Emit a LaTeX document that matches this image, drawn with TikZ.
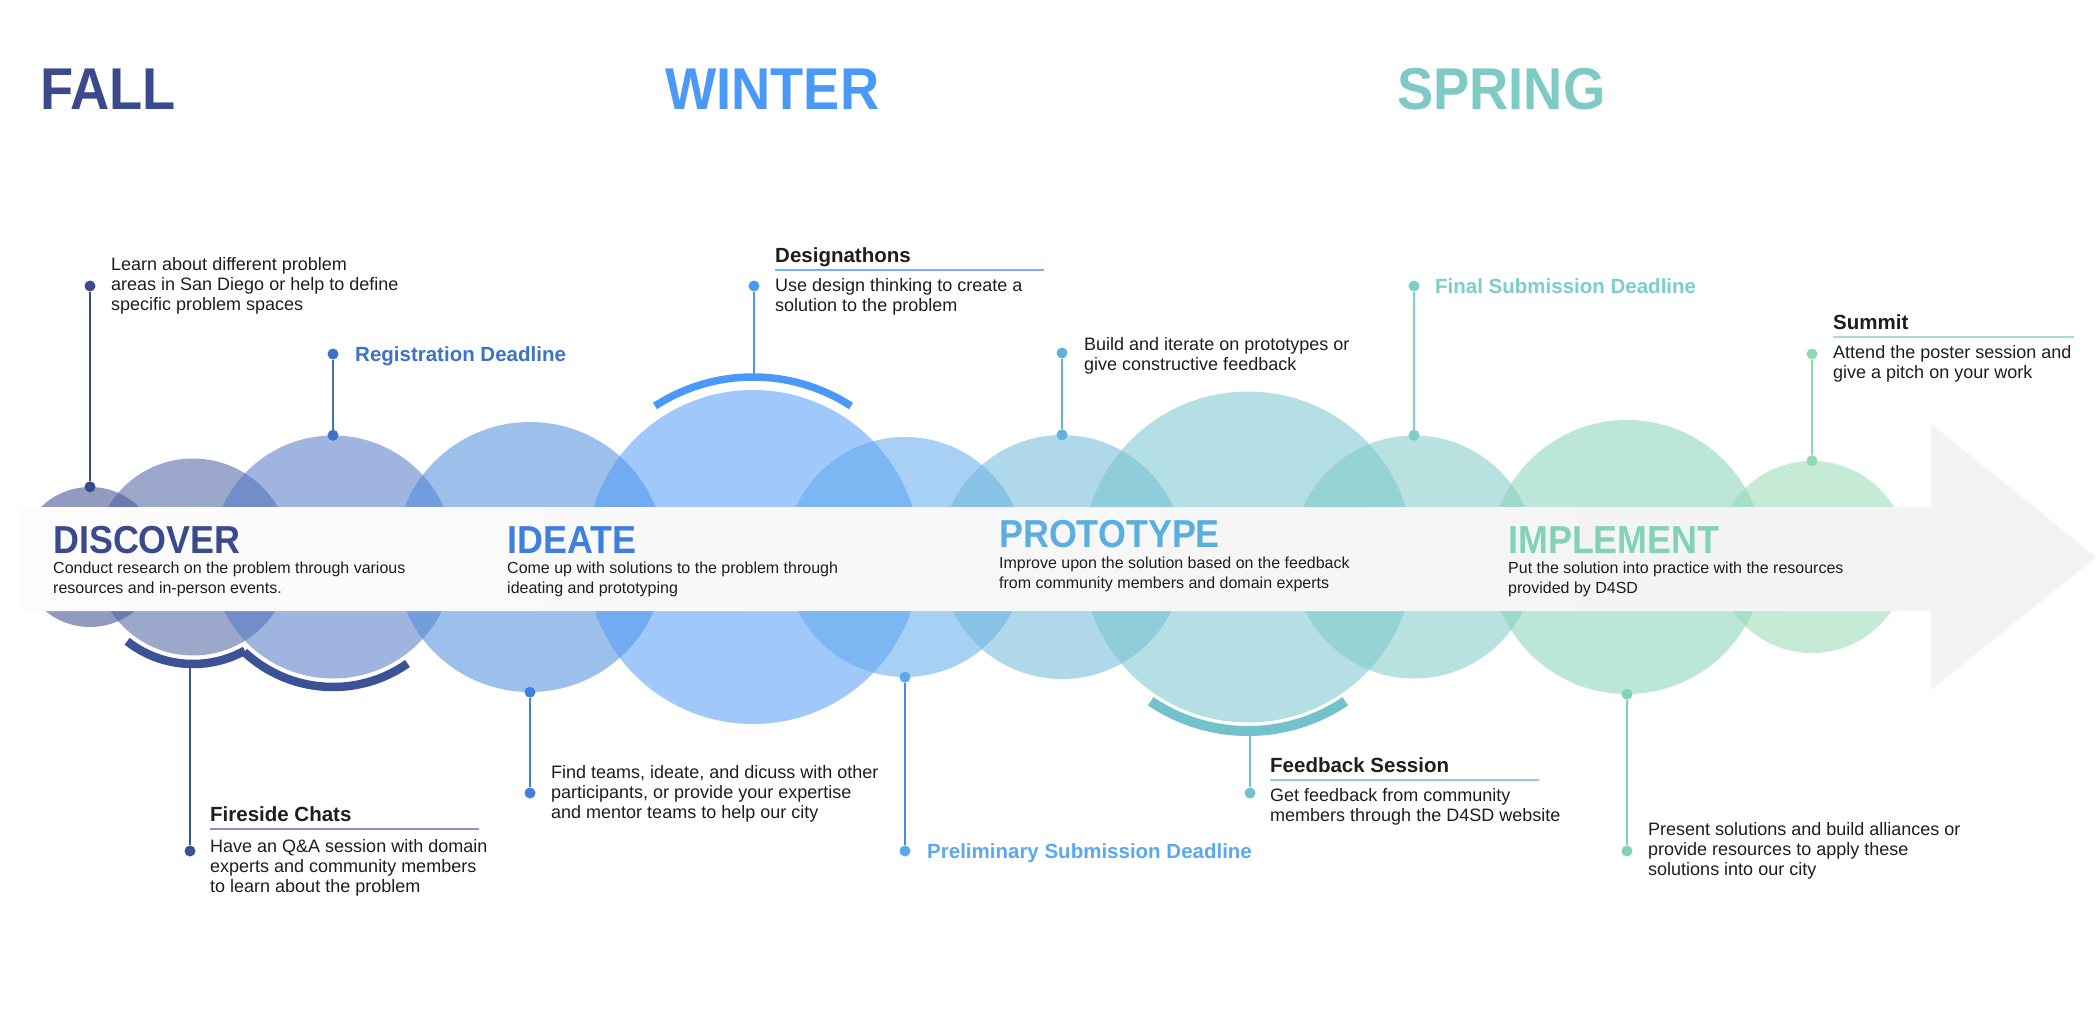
\documentclass[tikz,border=0pt]{standalone}
\usepackage{fontspec}
\setmainfont{Liberation Sans}
\newfontfamily\narrowsans{Liberation Sans}[FakeStretch=0.92]
\usepackage{xcolor}
\usepackage{tikz}

\definecolor{ink}{HTML}{1E1E1E}
\definecolor{bandl}{HTML}{FCFCFC}
\definecolor{bandr}{HTML}{F2F2F2}
\definecolor{fallc}{HTML}{3A4A8C}
\definecolor{winterc}{HTML}{4A98F8}
\definecolor{springc}{HTML}{7ECBC6}
\definecolor{regc}{HTML}{3D72C8}
\definecolor{firec}{HTML}{3B5296}
\definecolor{ideac}{HTML}{3F7FE0}
\definecolor{protoc}{HTML}{5AAEE0}
\definecolor{buildc}{HTML}{62B0DC}
\definecolor{prelimc}{HTML}{5AA8F0}
\definecolor{feedc}{HTML}{72C1CB}
\definecolor{finalc}{HTML}{7DCDC8}
\definecolor{summitc}{HTML}{8EDAB0}
\definecolor{implc}{HTML}{82D2BA}
\definecolor{b1}{HTML}{3A4A8C}
\definecolor{b2}{HTML}{4B61A2}
\definecolor{b3}{HTML}{5277C7}
\definecolor{b4}{HTML}{4D8BDC}
\definecolor{b5}{HTML}{529BF8}
\definecolor{b6}{HTML}{61AAED}
\definecolor{b7}{HTML}{6FB8DC}
\definecolor{b8}{HTML}{78C5CE}
\definecolor{b9}{HTML}{7ECAC7}
\definecolor{b10}{HTML}{87D2BC}
\definecolor{b11}{HTML}{96DBB6}

\begin{document}
\begin{tikzpicture}[
  x=1pt, y=-1pt,
  bub/.style={circle, inner sep=0pt, fill opacity=0.55},
  dot/.style={circle, inner sep=0pt, minimum size=11pt},
  pin/.style={line width=1.5pt},
  ring/.style={line width=8.5pt},
  rule/.style={line width=1.8pt},
  season/.style={anchor=base west, inner sep=0pt, font=\narrowsans\bfseries\fontsize{59}{60}\selectfont},
  phase/.style={anchor=base west, inner sep=0pt, font=\narrowsans\bfseries\fontsize{39}{40}\selectfont},
  desc/.style={anchor=base west, inner sep=0pt, align=left, text=ink, font=\fontsize{16}{20}\selectfont},
  note/.style={anchor=base west, inner sep=0pt, align=left, text=ink, font=\fontsize{18}{20}\selectfont},
  head/.style={anchor=base west, inner sep=0pt, text=ink, font=\bfseries\fontsize{20.5}{24}\selectfont},
  due/.style={anchor=base west, inner sep=0pt, font=\bfseries\fontsize{20.5}{24}\selectfont}
]
\fill[white] (0,0) rectangle (2100,1024);

\node[season, text=fallc] (fall) at (40,110) {FALL};
\node[season, text=winterc] (winter) at (665,110) {WINTER};
\node[season, text=springc] (spring) at (1397,110) {SPRING};

\node[bub, fill=b1, minimum size=140] (c1) at (90,557) {};
\node[bub, fill=b2, minimum size=197] (c2) at (193,557) {};
\node[bub, fill=b3, minimum size=243] (c3) at (333,557) {};
\node[bub, fill=b4, minimum size=270] (c4) at (530,557) {};
\node[bub, fill=b5, minimum size=334] (c5) at (753,557) {};
\node[bub, fill=b6, minimum size=240] (c6) at (905,557) {};
\node[bub, fill=b7, minimum size=244] (c7) at (1062,557) {};
\node[bub, fill=b8, minimum size=331] (c8) at (1248,557) {};
\node[bub, fill=b9, minimum size=243] (c9) at (1414,557) {};
\node[bub, fill=b10, minimum size=274] (c10) at (1627,557) {};
\node[bub, fill=b11, minimum size=192] (c11) at (1812,557) {};

\draw[ring, firec] ([shift={(128:107)}]c2.center) arc[start angle=128, end angle=61, radius=107];
\draw[ring, firec] ([shift={(133:130)}]c3.center) arc[start angle=133, end angle=55, radius=130];
\draw[ring, winterc, line width=7.5pt] ([shift={(237:180)}]c5.center) arc[start angle=237, end angle=303, radius=180];
\draw[ring, feedc, line width=10pt] ([shift={(124:174)}]c8.center) arc[start angle=124, end angle=56, radius=174];

\shade[left color=bandl, right color=bandr]
  (20,507) -- (1931,507) -- (1931,424) -- (2096,557) -- (1931,690) -- (1931,611) -- (20,611) -- cycle;

\node[phase, text=fallc] (discover) at (53,553) {DISCOVER};
\node[desc] (discovertxt) at (53,593) {Conduct research on the problem through various\\resources and in-person events.};
\node[phase, text=ideac] (ideate) at (507,553) {IDEATE};
\node[desc] (ideatetxt) at (507,593) {Come up with solutions to the problem through\\ideating and prototyping};
\node[phase, text=protoc] (prototype) at (999,547) {PROTOTYPE};
\node[desc] (prototypetxt) at (999,588) {Improve upon the solution based on the feedback\\from community members and domain experts};
\node[phase, text=implc] (implement) at (1508,553) {IMPLEMENT};
\node[desc] (implementtxt) at (1508,593) {Put the solution into practice with the resources\\provided by D4SD};

\node[dot, fill=fallc] (learn1) at (90,286) {};
\node[dot, fill=fallc] (learn2) at (c1.north) {};
\draw[pin, fallc] (learn1) -- (learn2);
\node[note] (learntxt) at (111,310) {Learn about different problem\\areas in San Diego or help to define\\specific problem spaces};

\node[dot, fill=regc] (reg1) at (333,354) {};
\node[dot, fill=regc] (reg2) at (c3.north) {};
\draw[pin, regc] (reg1) -- (reg2);
\node[due, text=regc] (regtxt) at (355,361) {Registration Deadline};

\coordinate (fire1) at (190,664);
\node[dot, fill=firec] (fire2) at (190,851) {};
\draw[pin, firec] (fire1) -- (fire2);
\node[head] (firehead) at (210,821) {Fireside Chats};
\draw[rule, fallc!60] ([yshift=-8pt]firehead.base west) -- ++(269,0);
\node[note] (firetxt) at (210,892) {Have an Q\&A session with domain\\experts and community members\\to learn about the problem};

\node[dot, fill=ideac] (team1) at (c4.south) {};
\node[dot, fill=ideac] (team2) at (530,793) {};
\draw[pin, ideac] (team1) -- (team2);
\node[note] (teamtxt) at (551,818) {Find teams, ideate, and dicuss with other\\participants, or provide your expertise\\and mentor teams to help our city};

\node[dot, fill=winterc] (design1) at (754,286) {};
\coordinate (design2) at (754,377);
\draw[pin, winterc] (design1) -- (design2);
\node[head] (designhead) at (775,262) {Designathons};
\draw[rule, winterc!75] ([yshift=-8pt]designhead.base west) -- ++(269,0);
\node[note] (designtxt) at (775,311) {Use design thinking to create a\\solution to the problem};

\node[dot, fill=buildc] (build1) at (1062,353) {};
\node[dot, fill=buildc] (build2) at (c7.north) {};
\draw[pin, buildc] (build1) -- (build2);
\node[note] (buildtxt) at (1084,370) {Build and iterate on prototypes or\\give constructive feedback};

\node[dot, fill=prelimc] (prelim1) at (c6.south) {};
\node[dot, fill=prelimc] (prelim2) at (905,851) {};
\draw[pin, prelimc!80!blue] (prelim1) -- (prelim2);
\node[due, text=prelimc] (prelimtxt) at (927,858) {Preliminary Submission Deadline};

\coordinate (feed1) at (1250,733);
\node[dot, fill=feedc] (feed2) at (1250,793) {};
\draw[pin, feedc] (feed1) -- (feed2);
\node[head] (feedhead) at (1270,772) {Feedback Session};
\draw[rule, feedc!80] ([yshift=-8pt]feedhead.base west) -- ++(269,0);
\node[note] (feedtxt) at (1270,821) {Get feedback from community\\members through the D4SD website};

\node[dot, fill=finalc] (final1) at (1414,286) {};
\node[dot, fill=finalc] (final2) at (c9.north) {};
\draw[pin, finalc] (final1) -- (final2);
\node[due, text=finalc] (finaltxt) at (1435,293) {Final Submission Deadline};

\node[dot, fill=summitc] (summit1) at (1812,354) {};
\node[dot, fill=summitc] (summit2) at (c11.north) {};
\draw[pin, summitc] (summit1) -- (summit2);
\node[head] (summithead) at (1833,329) {Summit};
\draw[rule, summitc!80] ([yshift=-8pt]summithead.base west) -- ++(241,0);
\node[note] (summittxt) at (1833,378) {Attend the poster session and\\give a pitch on your work};

\node[dot, fill=implc] (present1) at (c10.south) {};
\node[dot, fill=implc] (present2) at (1627,851) {};
\draw[pin, implc] (present1) -- (present2);
\node[note] (presenttxt) at (1648,875) {Present solutions and build alliances or\\provide resources to apply these\\solutions into our city};
\end{tikzpicture}
\end{document}
